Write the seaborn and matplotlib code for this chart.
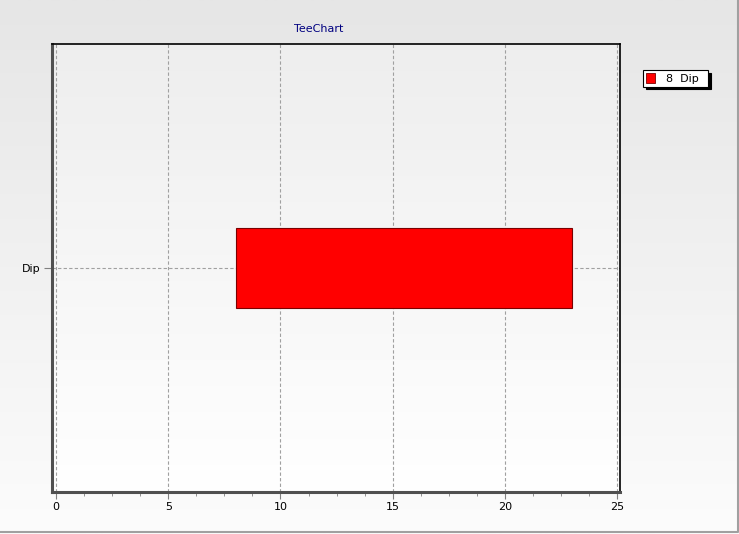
import numpy as np
import matplotlib
import seaborn as sns
from matplotlib import pyplot as plt
from matplotlib.lines import Line2D
from matplotlib.patches import Rectangle

matplotlib.use("Agg")

# gantt data
tasks = ["Dip"]
starts = [8]
ends = [23]
legend_labels = ["8  Dip"]

durations = [e - s for s, e in zip(starts, ends)]

sns.set_style("white")
plt.rcParams["font.family"] = ["DejaVu Sans"]
plt.rcParams["font.size"] = 7.5
plt.rcParams["text.color"] = "black"
plt.rcParams["xtick.color"] = "black"
plt.rcParams["ytick.color"] = "black"

fig = plt.figure(figsize=(7.39, 5.34), dpi=100)

# figure gradient background
bg = fig.add_axes([0, 0, 1, 1], zorder=-10)
grad = np.linspace(0, 1, 256).reshape(-1, 1)
bg.imshow(grad, aspect="auto", cmap=matplotlib.colors.LinearSegmentedColormap.from_list(
    "bg", ["#e6e6e6", "#fcfcfc"]), extent=[0, 1, 0, 1], origin="upper")
bg.set_axis_off()
# border only on right and bottom
fig.add_artist(Line2D([0, 0.998, 0.998], [0.004, 0.004, 1], transform=fig.transFigure,
                      color="#a0a0a0", linewidth=1.5))

ax = fig.add_axes([0.0704, 0.0787, 0.7686, 0.8389])
sns.barplot(
    x=durations,
    y=tasks,
    left=starts,
    width=0.36,
    color="#ff0000",
    saturation=1,
    edgecolor="#7a0000",
    linewidth=0.8,
    ax=ax,
    zorder=3,
)

# plot area gradient
ax.imshow(grad, aspect="auto", cmap=matplotlib.colors.LinearSegmentedColormap.from_list(
    "pa", ["#eeeeee", "#ffffff"]), extent=[0, 1, 0, 1], transform=ax.transAxes,
    origin="upper", zorder=0)
ax.set_xlim(-0.18, 25.13)
ax.set_ylim(1, -1)

ax.set_xticks([0, 5, 10, 15, 20, 25])
ax.set_xticks(np.arange(0, 25.01, 1.25), minor=True)
ax.grid(True, which="major", color="#a0a0a0", linestyle=(0, (3, 2)), linewidth=0.8, zorder=1)
ax.set_axisbelow(True)
ax.tick_params(axis="x", which="major", bottom=True, direction="out", length=5,
               color="#808080", labelcolor="black", labelsize=8, pad=2)
ax.tick_params(axis="x", which="minor", bottom=True, direction="out", length=3, color="#808080")
ax.tick_params(axis="y", left=True, direction="out", length=6, color="#808080",
               labelcolor="black", labelsize=8, pad=2)
ax.set_xlabel("")
ax.set_ylabel("")

for side in ["left", "bottom"]:
    ax.spines[side].set_color("#505050")
    ax.spines[side].set_linewidth(2.2)
for side in ["top", "right"]:
    ax.spines[side].set_color("#000000")
    ax.spines[side].set_linewidth(1.2)

fig.text(0.4315, 0.946, "TeeChart", color="#000080", ha="center", va="center", fontsize=8)

handles = [Rectangle((0, 0), 1, 1, fc="#ff0000", ec="#7a0000", lw=0.6, label=legend_labels[0])]
leg = fig.legend(handles=handles, loc="upper left", bbox_to_anchor=(0.870, 0.869),
                 frameon=True, fancybox=False, shadow={"color": "black", "alpha": 1},
                 handlelength=0.8, handleheight=1.1, handletextpad=1.0,
                 borderpad=0.25, borderaxespad=0, fontsize=8)
leg.get_frame().set_edgecolor("#000000")
leg.get_frame().set_linewidth(0.8)
for t in leg.get_texts():
    t.set_text("8  Dip  ")

fig.savefig("out.png", dpi=100)
